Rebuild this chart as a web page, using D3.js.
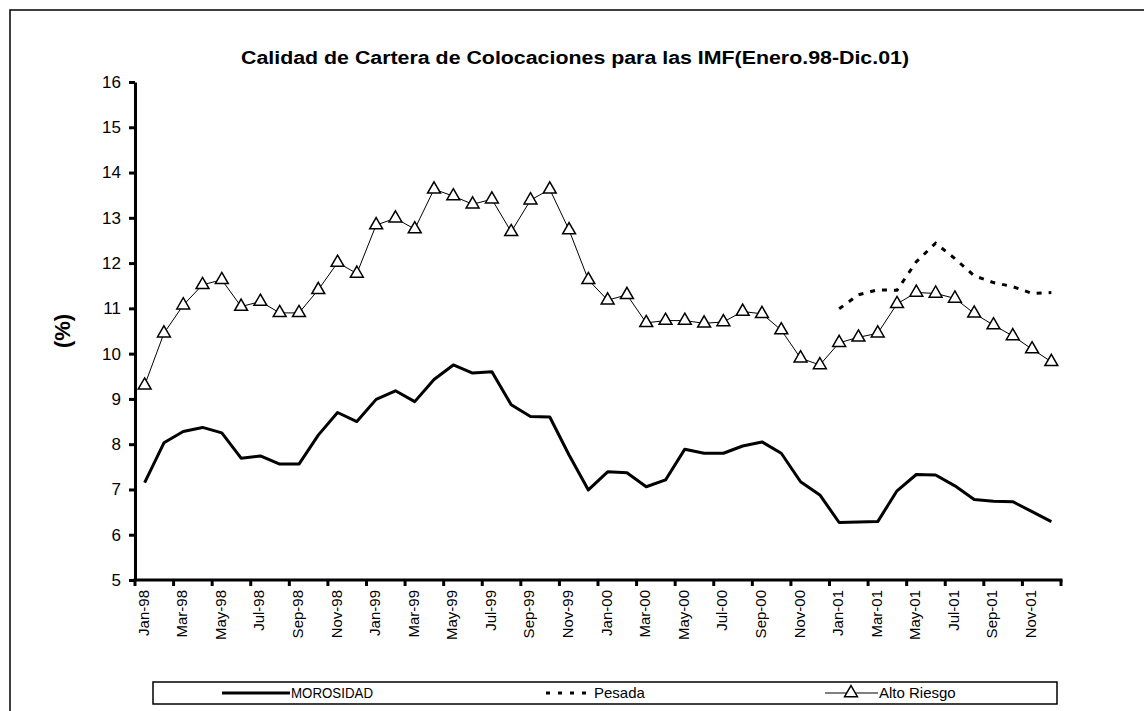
<!DOCTYPE html>
<html lang="es">
<head>
<meta charset="UTF-8">
<title>Calidad de Cartera</title>
<script src="https://d3js.org/d3.v7.min.js"></script>
<style>
  body { margin: 0; background: #fff; }
  svg text { font-family: Arial, "Liberation Sans", sans-serif; fill: #000; }
</style>
</head>
<body>
<svg id="chart" width="1144" height="711"></svg>
<script>
// months Jan-98 .. Dec-01
const monthNames = ["Jan","Feb","Mar","Apr","May","Jun","Jul","Aug","Sep","Oct","Nov","Dec"];
const years = ["98","99","00","01"];
const months = [];
years.forEach(y => monthNames.forEach(m => months.push(m + "-" + y)));

const morosidad = [7.15, 8.03, 8.28, 8.37, 8.25, 7.69, 7.74, 7.56, 7.56, 8.20, 8.70, 8.50,
                   8.99, 9.18, 8.94, 9.43, 9.75, 9.57, 9.60, 8.87, 8.61, 8.60, 7.76, 6.99,
                   7.39, 7.37, 7.06, 7.21, 7.89, 7.80, 7.80, 7.96, 8.05, 7.80, 7.17, 6.88,
                   6.27, 6.28, 6.29, 6.97, 7.33, 7.32, 7.08, 6.78, 6.74, 6.73, 6.51, 6.29];

// Pesada only from Jan-01
const pesada = [null, null, null, null, null, null, null, null, null, null, null, null,
                null, null, null, null, null, null, null, null, null, null, null, null,
                null, null, null, null, null, null, null, null, null, null, null, null,
                10.99, 11.30, 11.41, 11.40, 12.03, 12.44, 12.10, 11.72, 11.57, 11.48, 11.33, 11.35];

const altoRiesgo = [9.30, 10.45, 11.07, 11.52, 11.63, 11.04, 11.15, 10.90, 10.90, 11.41, 12.01, 11.77,
                    12.84, 12.99, 12.75, 13.63, 13.48, 13.30, 13.41, 12.69, 13.39, 13.63, 12.73, 11.63,
                    11.18, 11.30, 10.68, 10.73, 10.73, 10.67, 10.70, 10.93, 10.88, 10.52, 9.90, 9.75,
                    10.24, 10.36, 10.45, 11.10, 11.35, 11.33, 11.22, 10.89, 10.63, 10.39, 10.10, 9.82];

const yTicks = [5, 6, 7, 8, 9, 10, 11, 12, 13, 14, 15, 16];

const svg = d3.select("#chart");

// outer frame
svg.append("rect")
   .attr("x", 10).attr("y", 10)
   .attr("width", 1150).attr("height", 720)
   .attr("fill", "none").attr("stroke", "#000").attr("stroke-width", 1.5);

const plotL = 135, plotR = 1061, plotT = 82, plotB = 580;

const x = d3.scaleBand().domain(months).range([plotL, plotR]).padding(0);
const y = d3.scaleLinear().domain([5, 16]).range([plotB, plotT]);
const cx = i => x(months[i]) + x.bandwidth() / 2;

// title
svg.append("text")
   .attr("x", 575).attr("y", 64)
   .attr("text-anchor", "middle")
   .attr("font-size", 18).attr("font-weight", "bold")
   .attr("textLength", 668).attr("lengthAdjust", "spacingAndGlyphs")
   .text("Calidad de Cartera de Colocaciones para las IMF(Enero.98-Dic.01)");

// y axis title
svg.append("text")
   .attr("transform", "translate(70,331) rotate(-90)")
   .attr("text-anchor", "middle")
   .attr("font-size", 22).attr("font-weight", "bold")
   .text("(%)");

// y axis
const yAxis = svg.append("g")
   .attr("transform", `translate(${plotL},0)`)
   .call(d3.axisLeft(y).tickValues(yTicks).tickSize(6).tickSizeOuter(0).tickPadding(8));
yAxis.select(".domain").attr("stroke-width", 3);
yAxis.selectAll(".tick line").attr("stroke-width", 3);
yAxis.selectAll(".tick text").attr("font-size", 17).attr("font-family", "Arial, 'Liberation Sans', sans-serif");

// x axis: ticks at category boundaries every 2 months, labels centered in category
const xg = svg.append("g").attr("transform", `translate(0,${plotB})`);
xg.append("line")
  .attr("x1", plotL - 1.5).attr("x2", plotR + 1.5)
  .attr("stroke", "#000").attr("stroke-width", 3);
const tickMonths = months.filter((m, i) => i % 2 === 0);
xg.selectAll(".xt").data(tickMonths.concat(["end"])).enter()
  .append("line")
  .attr("x1", d => d === "end" ? plotR : x(d))
  .attr("x2", d => d === "end" ? plotR : x(d))
  .attr("y1", 0).attr("y2", 6)
  .attr("stroke", "#000").attr("stroke-width", 3);
xg.selectAll(".xl").data(tickMonths).enter()
  .append("text")
  .attr("transform", d => `translate(${x(d) + x.bandwidth() / 2 + 4},10) rotate(-90)`)
  .attr("text-anchor", "end")
  .attr("font-size", 15)
  .text(d => d);

// series
const lineGen = d3.line()
   .defined(d => d != null)
   .x((d, i) => cx(i))
   .y(d => y(d));

svg.append("path")
   .datum(morosidad)
   .attr("d", lineGen)
   .attr("fill", "none").attr("stroke", "#000").attr("stroke-width", 3)
   .attr("stroke-linejoin", "round");

svg.append("path")
   .datum(pesada)
   .attr("d", lineGen)
   .attr("fill", "none").attr("stroke", "#000").attr("stroke-width", 3)
   .attr("stroke-dasharray", "5,7");

svg.append("path")
   .datum(altoRiesgo)
   .attr("d", lineGen)
   .attr("fill", "none").attr("stroke", "#000").attr("stroke-width", 1);

const tri = d3.symbol().type(d3.symbolTriangle).size(72);
svg.selectAll(".tri").data(altoRiesgo).enter()
   .append("path")
   .attr("d", tri)
   .attr("transform", (d, i) => `translate(${cx(i)},${y(d)})`)
   .attr("fill", "#fff").attr("stroke", "#000").attr("stroke-width", 1.5);

// legend
const lg = svg.append("g");
lg.append("rect")
  .attr("x", 153).attr("y", 682).attr("width", 904).attr("height", 22)
  .attr("fill", "#fff").attr("stroke", "#000").attr("stroke-width", 1.5);
const ly = 693;
lg.append("line").attr("x1", 222).attr("x2", 290).attr("y1", ly).attr("y2", ly)
  .attr("stroke", "#000").attr("stroke-width", 3);
lg.append("text").attr("x", 291).attr("y", ly + 5).attr("font-size", 15)
  .attr("textLength", 82).attr("lengthAdjust", "spacingAndGlyphs").text("MOROSIDAD");
lg.append("line").attr("x1", 546).attr("x2", 592).attr("y1", ly).attr("y2", ly)
  .attr("stroke", "#000").attr("stroke-width", 3).attr("stroke-dasharray", "4,8");
lg.append("text").attr("x", 594).attr("y", ly + 5).attr("font-size", 15).text("Pesada");
lg.append("line").attr("x1", 825).attr("x2", 878).attr("y1", ly).attr("y2", ly)
  .attr("stroke", "#000").attr("stroke-width", 1);
lg.append("path").attr("d", tri).attr("transform", `translate(851,${ly})`)
  .attr("fill", "#fff").attr("stroke", "#000").attr("stroke-width", 1.5);
lg.append("text").attr("x", 879).attr("y", ly + 5).attr("font-size", 15).text("Alto Riesgo");
</script>
</body>
</html>
